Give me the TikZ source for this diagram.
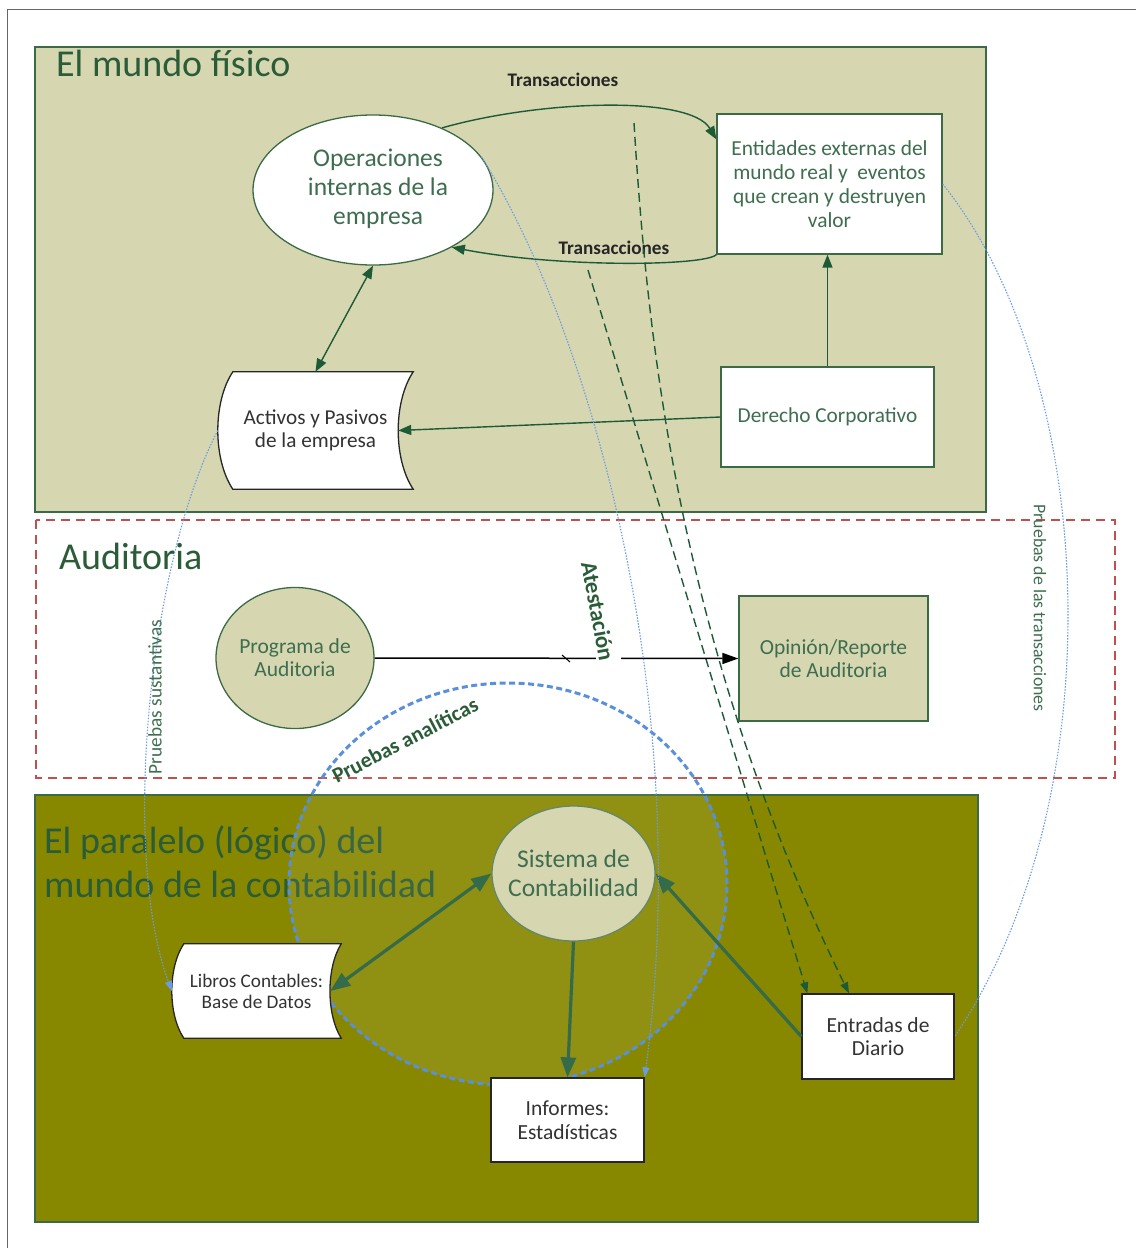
\documentclass[tikz,border=0pt]{standalone}
\usepackage{fontspec}
\setmainfont{Carlito}
\usetikzlibrary{arrows.meta,shapes.geometric,calc}
\definecolor{khaki}{HTML}{D6D6B1}
\definecolor{oliv}{HTML}{888800}
\definecolor{dgreen}{HTML}{2B5C38}
\definecolor{tgreen}{HTML}{3E6E4F}
\definecolor{agreen}{HTML}{1D5A36}
\definecolor{bgreen}{HTML}{3C6A45}
\definecolor{mblue}{HTML}{5A8FDB}
\definecolor{lblue}{HTML}{6A9CE3}
\definecolor{dred}{HTML}{C0504D}
\definecolor{tgray}{HTML}{333333}
\begin{document}
\begin{tikzpicture}[x=1pt,y=-1pt,
  lbl/.style={align=center, inner sep=0pt},
  titl/.style={anchor=base west, inner sep=0pt, text=dgreen, font=\fontsize{38}{44}\selectfont, align=left},
  wbox/.style={draw=bgreen, line width=1.3pt, fill=white, align=center, inner sep=0pt, text=tgreen, font=\fontsize{21.4}{24}\selectfont},
  kbox/.style={draw=bgreen, line width=1.3pt, fill=khaki, align=center, inner sep=0pt, text=tgreen, font=\fontsize{21.5}{23}\selectfont},
  bbox/.style={draw=black!85, line width=1.3pt, fill=white, align=center, inner sep=0pt, text=tgray, font=\fontsize{21.5}{23.5}\selectfont},
  garrow/.style={agreen, line width=1.4pt, -{Triangle[length=13pt,width=10pt]}},
  gboth/.style={agreen, line width=1.4pt, {Triangle[length=13pt,width=10pt]}-{Triangle[length=13pt,width=10pt]}},
  tarrow/.style={agreen!90!white, line width=3.2pt, -{Triangle[length=20pt,width=15pt]}},
  tboth/.style={agreen!90!white, line width=3.2pt, {Triangle[length=20pt,width=15pt]}-{Triangle[length=20pt,width=15pt]}},
  gdash/.style={agreen, line width=1.4pt, dash pattern=on 9pt off 5pt, -{Triangle[length=11pt,width=8pt]}},
  bdot/.style={lblue, line width=1.1pt, dash pattern=on 1.5pt off 1.5pt, -{Triangle[length=10pt,width=7pt]}},
  bdotn/.style={lblue, line width=1.1pt, dash pattern=on 1.5pt off 1.5pt},
  trlbl/.style={inner sep=0pt, font=\bfseries\fontsize{19.2}{22}\selectfont, text=black!85},
  sidelbl/.style={inner sep=0pt, text=tgreen}
]
\useasboundingbox (0,0) rectangle (1136,1248);
% outer frame
\draw[black!60, line width=1.6pt] (7.5,1248) -- (7.5,9.5) -- (1136,9.5);

% panels
\draw[bgreen, line width=1.5pt, fill=khaki] (35,47) rectangle (986,512);
\draw[dred, line width=1.1pt, dash pattern=on 9pt off 6pt] (36,520) rectangle (1115,778);
\draw[bgreen, line width=1.5pt, fill=oliv] (35,795) rectangle (978,1222);

% titles
\node[titl] (t1) at (56,76) {El mundo físico};
\node[titl] (t2) at (59,569) {Auditoria};
\node[titl] (t3a) at (44,853) {El paralelo (lógico) del};
\node[titl] (t3b) at (44,897) {mundo de la contabilidad};

% analytic circle
\node[ellipse, draw=mblue, line width=3pt, dash pattern=on 6pt off 3.5pt, fill=white, fill opacity=0.07, draw opacity=1, minimum width=438pt, minimum height=402pt, inner sep=0pt] (pa) at (508,884) {};
\node[inner sep=0pt, rotate=27.5, text=dgreen, font=\bfseries\fontsize{21.5}{24}\selectfont] (paL) at (405,740) {Pruebas analíticas};

% nodes panel 1
\node[ellipse, draw=bgreen, line width=1.3pt, fill=white, minimum width=240pt, minimum height=150pt, inner sep=0pt] (ops) at (373,190) {};
\node[lbl, text=tgreen, font=\fontsize{25.5}{29}\selectfont] (opsT) at (378,189) {Operaciones\\internas de la\\empresa};
\node[wbox, minimum width=225pt, minimum height=140pt] (ent) at (829.5,184) {Entidades externas del\\mundo real y\ \ eventos\\que crean y destruyen\\valor};
\node[wbox, minimum width=213pt, minimum height=100pt, font=\fontsize{21.3}{24}\selectfont] (der) at (827.5,417) {Derecho Corporativo};

\node[minimum width=195pt, minimum height=117pt, inner sep=0pt] (act) at (315.5,430.5) {};
\draw[black!85, line width=1.3pt, fill=white]
  ($(act.north west)+(15,0)$) -- (act.north east)
  .. controls ($(act.north east)+(-20,30)$) and ($(act.south east)+(-20,-30)$) .. (act.south east)
  -- ($(act.south west)+(15,0)$)
  .. controls ($(act.south west)+(-5,-30)$) and ($(act.north west)+(-5,30)$) .. cycle;
\node[lbl, text=tgray, font=\fontsize{21.2}{23}\selectfont] (actT) at (act) {Activos y Pasivos\\de la empresa};

% nodes audit
\node[ellipse, draw=bgreen, line width=1.3pt, fill=khaki, minimum width=158pt, minimum height=141pt, inner sep=0pt] (prog) at (295,658) {};
\node[lbl, text=tgreen, font=\fontsize{21.5}{23}\selectfont] (progT) at (prog) {Programa de\\Auditoria};
\node[kbox, minimum width=189pt, minimum height=125pt] (opi) at (833.5,658.5) {Opinión/Reporte\\de Auditoria};

% nodes panel 3
\node[ellipse, draw=bgreen!80!white, line width=1.3pt, fill=khaki, minimum width=163pt, minimum height=135pt, inner sep=0pt] (sis) at (573.5,873.5) {};
\node[lbl, text=tgreen, font=\fontsize{25.5}{29}\selectfont] (sisT) at (sis) {Sistema de\\Contabilidad};
\node[minimum width=169pt, minimum height=94pt, inner sep=0pt] (lib) at (256.5,991) {};
\draw[black!85, line width=1.3pt, fill=white]
  ($(lib.north west)+(12,0)$) -- (lib.north east)
  .. controls ($(lib.north east)+(-15,24)$) and ($(lib.south east)+(-15,-24)$) .. (lib.south east)
  -- ($(lib.south west)+(12,0)$)
  .. controls ($(lib.south west)+(-4,-24)$) and ($(lib.north west)+(-4,24)$) .. cycle;
\node[lbl, text=tgray, font=\fontsize{19.2}{21}\selectfont] (libT) at (lib) {Libros Contables:\\Base de Datos};
\node[bbox, minimum width=153pt, minimum height=84pt] (inf) at (567.5,1120) {Informes:\\Estadísticas};
\node[bbox, minimum width=152pt, minimum height=85pt] (ed) at (878,1036.5) {Entradas de\\Diario};

% connectors panel 1
\draw[garrow] (ops.42) .. controls (540,100) and (690,95) .. ($(ent.north west)+(0,26)$);
\node[trlbl] (tr1) at (563,80) {Transacciones};
\draw[garrow] (ent.south west) .. controls (705,266) and (560,268) .. (ops.-36);
\node[trlbl] (tr2) at (614,248) {Transacciones};
\draw[gboth] (act.north) -- (ops.south);
\draw[garrow] (der.north) -- (der.north |- ent.south);
\draw[garrow] (der.west) -- ($(act.east)+(-15,0)$);

% dashed transaction lines
\coordinate (dA) at (588,270);
\coordinate (dB) at (634,123);
\draw[gdash] (dA) -- ($(ed.north west)+(6,0)$);
\draw[gdash] (dB) .. controls (648,350) and (680,650) .. ($(ed.north)+(-29,0)$);

% audit connector
\draw[black, line width=1.5pt, -{Triangle[length=16pt,width=11pt]}] (prog.east) -- (opi.west);
\draw[black, line width=1pt] (562,655) -- (570,662);
\fill[white] (596,652) rectangle (621,664);
\node[inner sep=0pt, rotate=-79.5, text=dgreen, font=\bfseries\fontsize{23}{26}\selectfont] (ates) at (598,611) {Atestación};

% panel 3 connectors
\draw[tboth] (sis.west) -- ($(lib.east)+(-11,0)$);
\draw[tarrow] (sis.south) -- (inf.north);
\draw[tarrow] (ed.west) -- (sis.east);

% blue dotted tests
\draw[bdot] (act.west) .. controls (150,560) and (120,850) .. (lib.west);
\node[sidelbl, rotate=90, font=\fontsize{19.3}{22}\selectfont] (psus) at (155,697) {Pruebas sustantivas};
\draw[bdot] (ops.17) .. controls (590,330) and (695,700) .. (inf.north east);
\draw[bdotn] (ent.east) .. controls (1100,380) and (1115,800) .. (ed.east);
\node[sidelbl, rotate=-90, font=\fontsize{17.8}{20}\selectfont] (ptr) at (1040,608) {Pruebas de las transacciones};
\end{tikzpicture}
\end{document}
